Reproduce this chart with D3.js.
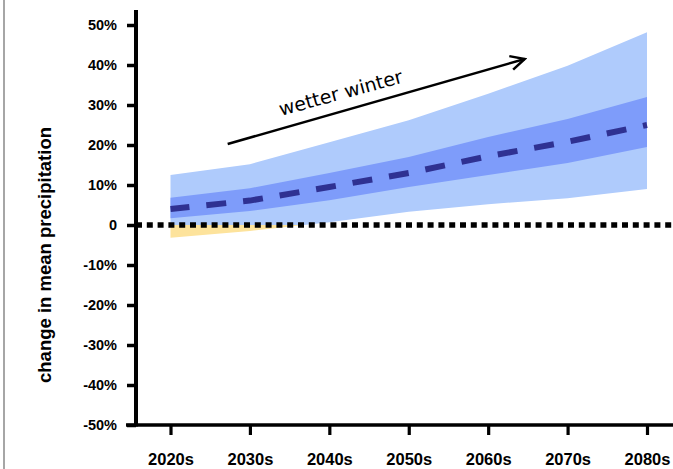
<!DOCTYPE html>
<html>
<head>
<meta charset="utf-8">
<script src="https://cdn.jsdelivr.net/npm/d3@7"></script>
<style>
  body { margin: 0; background: #fff; }
  .tick text { font-family: "Liberation Sans", Arial, sans-serif; font-weight: bold; fill: #000; }
</style>
</head>
<body>
<div id="chart"></div>
<script>
// decades along the x axis
const decades = ['2020s', '2030s', '2040s', '2050s', '2060s', '2070s', '2080s'];
// change in mean winter precipitation (fraction)
const outerHigh = [0.125, 0.152, 0.207, 0.262, 0.328, 0.398, 0.482];
const outerLow = [-0.032, -0.015, 0.007, 0.033, 0.052, 0.067, 0.090];
const innerHigh = [0.068, 0.092, 0.130, 0.170, 0.220, 0.265, 0.320];
const innerLow = [0.017, 0.035, 0.062, 0.095, 0.125, 0.155, 0.195];
const median = [0.040, 0.061, 0.095, 0.130, 0.172, 0.208, 0.250];
const yTicks = [0.5, 0.4, 0.3, 0.2, 0.1, 0, -0.1, -0.2, -0.3, -0.4, -0.5];
// annotation, in [decade index, value]
const arrowFrom = [0.72, 0.2025];
const arrowTo = [4.46, 0.415];
const labelAt = [1.39, 0.2725];
const labelText = 'wetter winter';

const [svgWidth, svgHeight] = [673, 469];

const x = d3.scalePoint().domain(decades).range([170.5, 647]);
const xi = d3.scaleLinear().domain([0, decades.length - 1]).range([170.5, 647]);
const y = d3.scaleLinear().domain([-0.5, 0.5]).range([425, 25]);

const data = decades.map((d, i) => ({
    d: d, oh: outerHigh[i], ol: outerLow[i], ih: innerHigh[i], il: innerLow[i], m: median[i]
}));

let svg = d3.select('#chart').append('svg')
    .attr('width', svgWidth)
    .attr('height', svgHeight);

let defs = svg.append('defs');
defs.append('clipPath').attr('id', 'above')
    .append('rect').attr('x', 0).attr('y', 0).attr('width', svgWidth).attr('height', y(0));
defs.append('clipPath').attr('id', 'below')
    .append('rect').attr('x', 0).attr('y', y(0)).attr('width', svgWidth).attr('height', svgHeight - y(0));
defs.append('marker')
    .attr('id', 'head')
    .attr('markerUnits', 'userSpaceOnUse')
    .attr('viewBox', '0 0 20 20')
    .attr('refX', 18).attr('refY', 10)
    .attr('markerWidth', 20).attr('markerHeight', 20)
    .attr('orient', 'auto')
    .append('path')
    .attr('d', 'M4,3 L18,10 L4,17')
    .attr('fill', 'none')
    .attr('stroke', '#000')
    .attr('stroke-width', 2.5);

// page border on the left
svg.append('line')
    .attr('x1', 4).attr('x2', 4).attr('y1', 0).attr('y2', svgHeight)
    .attr('stroke', '#a6a6a6').attr('stroke-width', 2);

const outer = d3.area().x(d => x(d.d)).y0(d => y(d.ol)).y1(d => y(d.oh));
const inner = d3.area().x(d => x(d.d)).y0(d => y(d.il)).y1(d => y(d.ih));

svg.append('path').datum(data)
    .attr('d', outer).attr('fill', '#afcbfc').attr('clip-path', 'url(#above)');
svg.append('path').datum(data)
    .attr('d', outer).attr('fill', '#fde39c').attr('clip-path', 'url(#below)');
svg.append('path').datum(data)
    .attr('d', inner).attr('fill', '#7e9cfa');

svg.append('path').datum(data)
    .attr('d', d3.line().x(d => x(d.d)).y(d => y(d.m)))
    .attr('fill', 'none')
    .attr('stroke', '#2f3192')
    .attr('stroke-width', 6)
    .attr('stroke-dasharray', '20,17')
    .attr('stroke-dashoffset', 1);

// zero line
svg.append('line')
    .attr('x1', 136).attr('x2', svgWidth)
    .attr('y1', y(0)).attr('y2', y(0))
    .attr('stroke', '#000')
    .attr('stroke-width', 5.5)
    .attr('stroke-dasharray', '6,4.8');

// axes
let yAxis = svg.append('g')
    .attr('transform', 'translate(136,0)')
    .call(d3.axisLeft(y).tickValues(yTicks).tickSize(9).tickPadding(10)
        .tickFormat(v => v === 0 ? '0' : Math.round(v * 100) + '%'));
yAxis.select('.domain').remove();
yAxis.selectAll('.tick line').attr('stroke', '#000').attr('stroke-width', 3.5);
yAxis.selectAll('.tick text').style('font-size', '14.5px');
yAxis.append('line')
    .attr('x1', 0).attr('x2', 0).attr('y1', y(0.5) - 15).attr('y2', y(-0.5) + 1.5)
    .attr('stroke', '#000').attr('stroke-width', 4);

let xAxis = svg.append('g')
    .attr('transform', 'translate(0,' + y(-0.5) + ')')
    .call(d3.axisBottom(x).tickSize(10).tickPadding(18.5));
xAxis.select('.domain').remove();
xAxis.selectAll('.tick line').attr('stroke', '#000').attr('stroke-width', 3.2);
xAxis.selectAll('.tick text').style('font-size', '16.5px');
xAxis.append('line')
    .attr('x1', 126).attr('x2', svgWidth).attr('y1', 0).attr('y2', 0)
    .attr('stroke', '#000').attr('stroke-width', 3.6);

svg.append('text')
    .attr('transform', 'translate(51,255) rotate(-90)')
    .attr('text-anchor', 'middle')
    .style('font-family', '"Liberation Sans", Arial, sans-serif')
    .style('font-weight', 'bold')
    .style('font-size', '18.5px')
    .text('change in mean precipitation');

// annotation arrow and label
svg.append('line')
    .attr('x1', xi(arrowFrom[0])).attr('y1', y(arrowFrom[1]))
    .attr('x2', xi(arrowTo[0])).attr('y2', y(arrowTo[1]))
    .attr('stroke', '#000').attr('stroke-width', 2.5)
    .attr('marker-end', 'url(#head)');

svg.append('text')
    .attr('transform', 'translate(' + xi(labelAt[0]) + ',' + y(labelAt[1]) + ') rotate(-15.3)')
    .style('font-family', '"DejaVu Sans", Verdana, sans-serif')
    .style('font-size', '19px')
    .text(labelText);
</script>
</body>
</html>
